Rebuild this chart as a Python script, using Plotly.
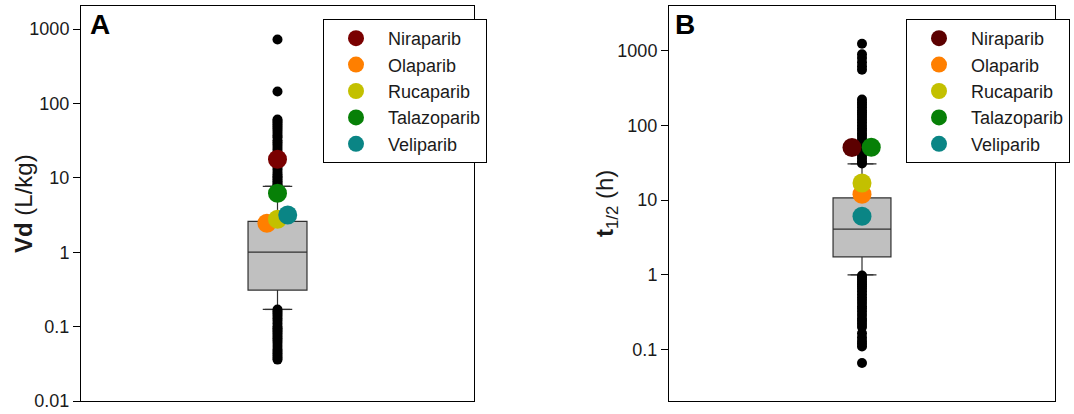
import plotly.graph_objects as go

# ---------------- data ----------------
drugs = ["Niraparib", "Olaparib", "Rucaparib", "Talazoparib", "Veliparib"]

# Panel A: Vd (L/kg)
vd_drugs = [17.8, 2.45, 2.78, 6.2, 3.16]
vd_box = dict(q1=0.31, median=1.0, q3=2.6, lowerfence=0.17, upperfence=7.7)
vd_outliers = [725, 145, 61, 58, 55, 52, 49, 46, 43, 40, 37, 35, 32, 30, 28, 26, 24,
               22, 20.5, 19, 17.5, 16, 15, 14, 13, 12, 11.2, 10.5, 10, 9.5, 9, 8.5, 8.1, 7.8,
               0.17, 0.16, 0.15, 0.14, 0.13, 0.12, 0.11, 0.10, 0.095, 0.09, 0.085, 0.08,
               0.075, 0.07, 0.065, 0.06, 0.055, 0.05, 0.047, 0.044, 0.041, 0.038, 0.036]

# Panel B: t1/2 (h)
t_drugs = [50.7, 12.0, 17.0, 51.0, 6.1]
t_box = dict(q1=1.74, median=4.1, q3=10.7, lowerfence=1.0, upperfence=30.6)
t_outliers = [1240, 900, 800, 700, 620, 557,
              223, 205, 190, 175, 160, 150, 140, 130, 120, 110, 100, 92, 85, 78, 72, 66,
              60, 55, 50, 46, 42, 39, 36, 33, 31,
              0.98, 0.92, 0.86, 0.8, 0.75, 0.7, 0.65, 0.6, 0.55, 0.5, 0.46, 0.42, 0.38,
              0.35, 0.32, 0.29, 0.26, 0.24, 0.22, 0.2, 0.165, 0.145, 0.13, 0.12, 0.11, 0.066]

vd_ticks = [0.01, 0.1, 1, 10, 100, 1000]
vd_ticklabels = ["0.01", "0.1", "1", "10", "100", "1000"]
t_ticks = [0.1, 1, 10, 100, 1000]
t_ticklabels = ["0.1", "1", "10", "100", "1000"]

# ---------------- styles ----------------
colors_A = ["#7a0000", "#ff7f00", "#c3c000", "#078007", "#0a8585"]
colors_B = ["#5c0000", "#ff7f00", "#c3c000", "#078007", "#0a8585"]
offs_A = [0.0, -0.027, 0.0, 0.0, 0.026]
offs_B = [-0.026, 0.0, 0.0, 0.024, 0.0]
FONT = "Liberation Sans, Arial, sans-serif"
BOXW = 0.15

fig = go.Figure()


def add_panel(xa, ya, box, outliers, vals, offs, colors, legend, capw):
    fig.add_trace(go.Box(
        x=[0], q1=[box["q1"]], median=[box["median"]], q3=[box["q3"]],
        lowerfence=[box["lowerfence"]], upperfence=[box["upperfence"]],
        width=BOXW, fillcolor="#c0c0c0", line=dict(color="#303030", width=1.2),
        boxpoints=False, showlegend=False, xaxis=xa, yaxis=ya, hoverinfo="skip"))
    for f in (box["lowerfence"], box["upperfence"]):
        fig.add_trace(go.Scatter(
            x=[-capw / 2, capw / 2], y=[f, f], mode="lines",
            line=dict(color="#303030", width=1.2), showlegend=False,
            xaxis=xa, yaxis=ya, hoverinfo="skip"))
    fig.add_trace(go.Scatter(
        x=[0] * len(outliers), y=outliers, mode="markers",
        marker=dict(color="black", size=10), showlegend=False,
        xaxis=xa, yaxis=ya))
    for name, v, c, o in zip(drugs, vals, colors, offs):
        fig.add_trace(go.Scatter(
            x=[o], y=[v], mode="markers", name=name,
            marker=dict(color=c, size=19), legend=legend,
            xaxis=xa, yaxis=ya))


add_panel("x", "y", vd_box, vd_outliers, vd_drugs, offs_A, colors_A, "legend", 0.064)
add_panel("x2", "y2", t_box, t_outliers, t_drugs, offs_B, colors_B, "legend2", 0.059)

ydom = [1 - 401 / 414, 1 - 6 / 414]
axcommon = dict(showline=True, linecolor="black", linewidth=1, mirror=True,
                showgrid=False, zeroline=False, automargin=False)
xcommon = dict(axcommon, range=[-0.5, 0.5], showticklabels=False, ticks="")
ycommon = dict(axcommon, type="log", ticks="outside", ticklen=7, tickwidth=1,
               tickcolor="black", tickfont=dict(size=18, color="#1a1a1a", family=FONT))

legcommon = dict(bordercolor="black", borderwidth=1, bgcolor="white",
                 font=dict(size=18, color="#1a1a1a", family=FONT),
                 xanchor="left", yanchor="top", itemsizing="trace", tracegroupgap=0,
                 itemwidth=54)

fig.update_layout(
    width=1074, height=414, margin=dict(l=0, r=0, t=0, b=0, autoexpand=False),
    paper_bgcolor="white", plot_bgcolor="white",
    font=dict(family=FONT, color="#1a1a1a"),
    xaxis=dict(xcommon, domain=[81 / 1074, 474 / 1074], anchor="y"),
    yaxis=dict(ycommon, domain=ydom, range=[-2, 3.31], anchor="x",
               tickvals=vd_ticks, ticktext=vd_ticklabels),
    xaxis2=dict(xcommon, domain=[669 / 1074, 1055 / 1074], anchor="y2"),
    yaxis2=dict(ycommon, domain=ydom, range=[-1.69, 3.60], anchor="x2",
                tickvals=t_ticks, ticktext=t_ticklabels),
    legend=dict(legcommon, x=323 / 1074, y=1 - 19 / 414),
    legend2=dict(legcommon, x=906 / 1074, y=1 - 19 / 414),
    showlegend=True,
)

ann = dict(xref="paper", yref="paper", showarrow=False, xanchor="center", yanchor="middle")
fig.add_annotation(ann, text="<b>Vd</b> (L/kg)", textangle=-90,
                   x=23 / 1074, y=1 - 204 / 414,
                   font=dict(size=24, family=FONT, color="#1a1a1a"))
fig.add_annotation(ann, text="<b>t</b><sub>1/2</sub> (h)", textangle=-90,
                   x=606 / 1074, y=1 - 204 / 414,
                   font=dict(size=24, family=FONT, color="#1a1a1a"))
fig.add_annotation(ann, text="<b>A</b>", x=100 / 1074, y=1 - 24 / 414,
                   font=dict(size=28, family=FONT, color="black"))
fig.add_annotation(ann, text="<b>B</b>", x=685 / 1074, y=1 - 24 / 414,
                   font=dict(size=28, family=FONT, color="black"))

fig.write_html("out.html", config={"displayModeBar": False},
               post_script="document.body.style.margin='0';document.body.style.overflow='hidden';")
